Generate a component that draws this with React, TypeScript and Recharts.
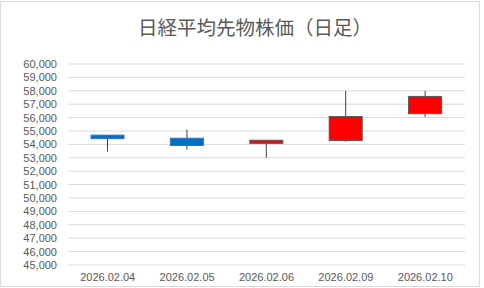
// 日経平均先物 ローソク足（日足）
import { ComposedChart, Bar, XAxis, YAxis, CartesianGrid } from 'recharts';

const dates = ['2026.02.04', '2026.02.05', '2026.02.06', '2026.02.09', '2026.02.10'];
const opens = [54690, 54460, 54080, 54280, 56290];
const highs = [54700, 55100, 54320, 58000, 58000];
const lows = [53460, 53620, 53000, 54200, 56050];
const closes = [54430, 53920, 54310, 56080, 57580];
const yTicks = [45000, 46000, 47000, 48000, 49000, 50000, 51000, 52000, 53000, 54000, 55000, 56000, 57000, 58000, 59000, 60000];

const data = dates.map((date, i) => ({
  date,
  open: opens[i],
  high: highs[i],
  low: lows[i],
  close: closes[i],
  range: [lows[i], highs[i]],
}));

const textColor = '#595959';

// ローソク1本：range(low..high) の矩形からピクセル換算して実体とヒゲを描く
const Candle = (props: any) => {
  const { x, y, width, height, payload } = props;
  const { open, close, high, low } = payload;
  const top = Math.min(y, y + height);
  const bot = Math.max(y, y + height);
  const ppv = (bot - top) / (high - low);
  const yOf = (v: number) => top + (high - v) * ppv;
  const up = close >= open;
  const bodyTop = yOf(Math.max(open, close));
  const bodyBot = yOf(Math.min(open, close));
  const cx = x + width / 2;
  return (
    <g>
      <line x1={cx} x2={cx} y1={top} y2={bot} stroke="#404040" strokeWidth={1} />
      <rect
        x={x}
        y={bodyTop}
        width={width}
        height={Math.max(bodyBot - bodyTop, 1)}
        fill={up ? '#ff0000' : '#0070c0'}
        stroke={up ? '#595959' : '#3a70c0'}
        strokeWidth={1}
      />
    </g>
  );
};

export default function App() {
  return (
    <div
      style={{
        position: 'absolute',
        left: 0,
        top: 0,
        width: 484,
        height: 288,
        background: '#fff',
        fontFamily: '"Liberation Sans", Arial, sans-serif',
      }}
    >
      <div
        style={{
          position: 'absolute',
          left: 0,
          top: 1,
          width: 480,
          height: 286,
          border: '1px solid #d9d9d9',
          boxSizing: 'border-box',
        }}
      />
      <div
        style={{
          position: 'absolute',
          top: 15,
          left: 0,
          width: 510,
          textAlign: 'center',
          fontSize: 19.5,
          color: textColor,
          fontFamily: '"Noto Sans CJK JP", sans-serif',
          lineHeight: '24px',
        }}
      >
        日経平均先物株価（日足）
      </div>
      <ComposedChart
        width={484}
        height={288}
        data={data}
        margin={{ top: 64, right: 19, left: 0, bottom: 3 }}
        style={{ position: 'absolute', left: 0, top: 0 }}
      >
        <CartesianGrid vertical={false} stroke="#d9d9d9" />
        <XAxis
          dataKey="date"
          tickLine={false}
          axisLine={false}
          tickSize={0}
          tickMargin={8}
          height={20}
          interval={0}
          tick={{ fill: textColor, fontSize: 11 }}
        />
        <YAxis
          domain={[45000, 60000]}
          ticks={yTicks}
          interval={0}
          width={68}
          tickLine={false}
          axisLine={false}
          tickSize={0}
          tickMargin={11}
          tick={{ fill: textColor, fontSize: 11 }}
          tickFormatter={(v: number) => v.toLocaleString('en-US')}
        />
        <Bar dataKey="range" barSize={33} shape={<Candle />} isAnimationActive={false} />
      </ComposedChart>
    </div>
  );
}
